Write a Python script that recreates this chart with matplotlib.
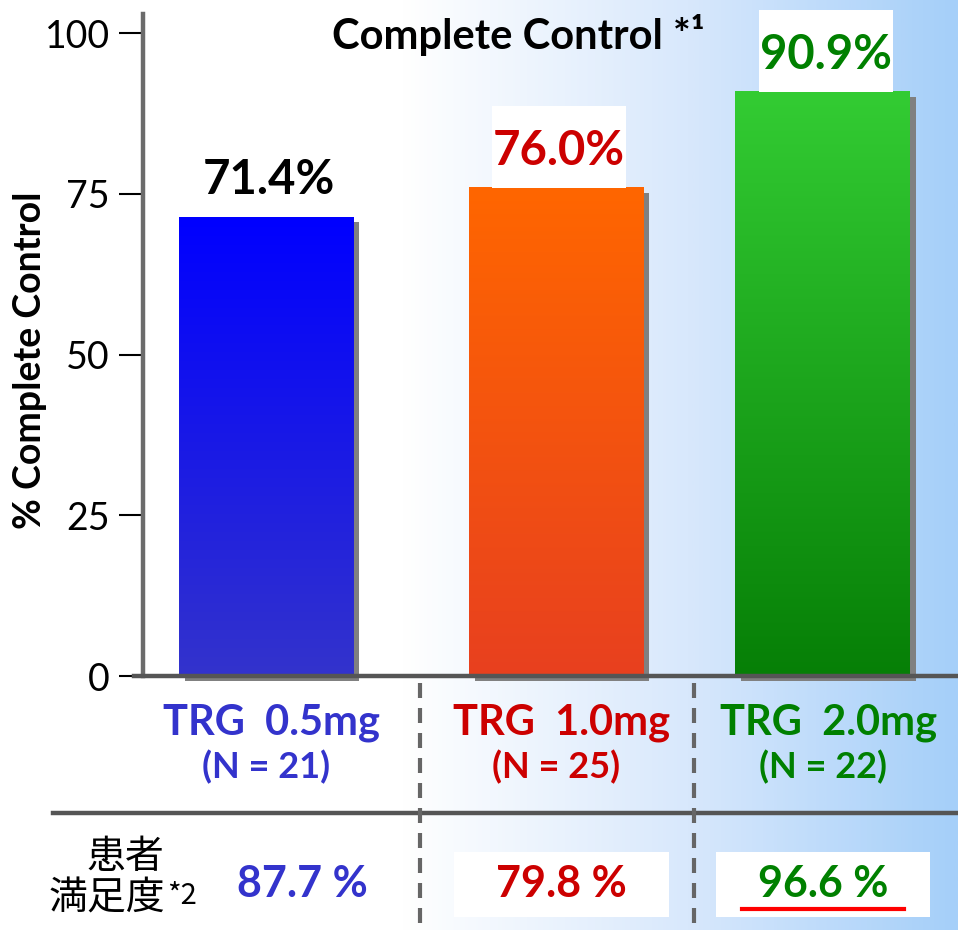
import numpy as np
import matplotlib
matplotlib.use('Agg')
import matplotlib.pyplot as plt
from matplotlib.colors import LinearSegmentedColormap
from matplotlib.patches import Rectangle
from matplotlib.lines import Line2D
from matplotlib.transforms import ScaledTranslation, IdentityTransform, blended_transform_factory

# data
doses = ['TRG  0.5mg', 'TRG  1.0mg', 'TRG  2.0mg']
group_n = [21, 25, 22]
complete_control = [71.4, 76.0, 90.9]
satisfaction = [87.7, 79.8, 96.6]
y_ticks = [0, 25, 50, 75, 100]

# colours
label_colors = ['#3333cc', '#cc0000', '#008000']
value_colors = ['black', '#cc0000', '#008000']
bar_tops = ['#0000ff', '#ff6600', '#33cc33']
bar_bottoms = ['#3333cc', '#e8401f', '#067f06']

plt.rcParams['font.family'] = ['Lato', 'Noto Sans CJK JP', 'DejaVu Sans']

W, H, DPI = 958, 930, 100
fig = plt.figure(figsize=(W / DPI, H / DPI), dpi=DPI)


def fx(p):
    return p / W


def fy(p):
    return 1 - p / H


# white -> light blue background
bg = fig.add_axes([0, 0, 1, 1], zorder=-5)
bg.set_axis_off()
bg_cmap = LinearSegmentedColormap.from_list(
    'bg', [(0, '#ffffff'), (0.42, '#ffffff'), (0.72, '#d8e8fc'), (1, '#a5cff9')])
bg.imshow(np.linspace(0, 1, 600)[None, :], cmap=bg_cmap, aspect='auto', extent=(0, 1, 0, 1))

ax = fig.add_axes([fx(143), fy(676), fx(W - 143), (676 - 14) / H])
ax.patch.set_visible(False)

xpos = np.array([0.0, 1.0, 1.92])
bar_w = 0.603
xlim = (-0.424, 2.386)

# drop shadows
shadow_tf = ax.transData + ScaledTranslation(6 / DPI, -5 / DPI, fig.dpi_scale_trans)
ax.bar(xpos, complete_control, bar_w, color='#808080', transform=shadow_tf,
       clip_on=False, zorder=2)

# gradient filled bars
for i, (x, v) in enumerate(zip(xpos, complete_control)):
    cmap = LinearSegmentedColormap.from_list(f'bar{i}', [bar_bottoms[i], bar_tops[i]])
    ax.imshow(np.linspace(0, 1, 256)[:, None], cmap=cmap, origin='lower', aspect='auto',
              extent=(x - bar_w / 2, x + bar_w / 2, 0, v), zorder=3)

ax.set_xlim(*xlim)
ax.set_ylim(0, 103)

for s in ['top', 'right']:
    ax.spines[s].set_visible(False)
ax.spines['left'].set_color('#6b6b6b')
ax.spines['left'].set_linewidth(3.2)
ax.spines['bottom'].set_color('#555555')
ax.spines['bottom'].set_linewidth(3.2)
ax.spines['bottom'].set_bounds(xlim[0] - 9 / 290, xlim[1])
for s in ax.spines.values():
    s.set_zorder(5)

ax.set_xticks([])
ax.set_yticks(y_ticks)
ax.tick_params(axis='y', direction='out', length=17, width=1.5, color='black',
               pad=7, labelsize=27)

fig.text(fx(30), fy(360), '% Complete Control', rotation=90, ha='center', va='center',
         fontsize=27, fontweight='bold')
fig.text(fx(518), fy(49), 'Complete Control *¹', ha='center', va='baseline',
         fontsize=30, fontweight='bold')

# value labels above bars
value_texts = []
for x, v, c in zip(xpos, complete_control, value_colors):
    t = ax.annotate(f'{v:.1f}%', xy=(x, v), xytext=(2, 23 * 72 / DPI),
                    textcoords='offset points', ha='center', va='baseline',
                    fontsize=34, fontweight='bold', color=c, zorder=6,
                    annotation_clip=False)
    value_texts.append(t)

# group labels
lab_tf = blended_transform_factory(ax.transData, fig.transFigure)
for x, name, n, c in zip(xpos, doses, group_n, label_colors):
    ax.text(x + 0.02, fy(735), name, transform=lab_tf, ha='center', va='baseline',
            fontsize=30, fontweight='bold', color=c)
    ax.text(x + 0.0, fy(778), f'(N = {n})', transform=lab_tf, ha='center', va='baseline',
            fontsize=26, fontweight='bold', color=c)

# table lines
fig.add_artist(Line2D([fx(53), 1], [fy(813)] * 2, color='#555555', lw=3.2))
for sx in [420, 694]:
    fig.add_artist(Line2D([fx(sx)] * 2, [fy(683), fy(925)], color='#666666', lw=3,
                          linestyle=(0, (3.6, 2.4))))

# patient satisfaction row
fig.text(fx(125), fy(857), '患者', ha='center', va='center', fontsize=28,
         family=['Noto Sans CJK JP'])
fig.text(fx(107), fy(898), '満足度', ha='center', va='center', fontsize=28,
         family=['Noto Sans CJK JP'])
fig.text(fx(167), fy(904), '*2', ha='left', va='baseline', fontsize=21,
         family=['Noto Sans CJK JP'])

sat_x = xpos + np.array([0.125, 0.02, 0.0])
sat_texts = []
for x, s, c in zip(sat_x, satisfaction, label_colors):
    t = ax.text(x, fy(897), f'{s:.1f} %', transform=lab_tf, ha='center', va='baseline',
                fontsize=31, fontweight='bold', color=c, zorder=6)
    sat_texts.append(t)

# white boxes behind labels, sized from the rendered text
fig.canvas.draw()
r = fig.canvas.get_renderer()
for t, x, v in zip(value_texts, xpos, complete_control):
    bb = t.get_window_extent(r)
    y0 = ax.transData.transform((x, v))[1]
    top = y0 + 23 + 34 * DPI / 72 * 0.72 + 25
    ax.add_patch(Rectangle((bb.x0 - 1, y0), bb.width + 2, top - y0, facecolor='white',
                           edgecolor='none', transform=IdentityTransform(),
                           clip_on=False, zorder=4))

base = H - 897
for i in (1, 2):
    bb = sat_texts[i].get_window_extent(r)
    cx = (bb.x0 + bb.x1) / 2
    half = bb.width / 2 + 42
    ax.add_patch(Rectangle((cx - half, base - 20), 2 * half, 65, facecolor='white',
                           edgecolor='none', transform=IdentityTransform(),
                           clip_on=False, zorder=4))

best = int(np.argmax(satisfaction))
bb = sat_texts[best].get_window_extent(r)
cx = (bb.x0 + bb.x1) / 2
ax.add_artist(Line2D([cx - bb.width / 2 - 16, cx + bb.width / 2 + 16], [base - 12] * 2,
                     color='#ff0000', lw=3, transform=IdentityTransform(),
                     clip_on=False, zorder=6))

fig.savefig('out.png', dpi=DPI)
